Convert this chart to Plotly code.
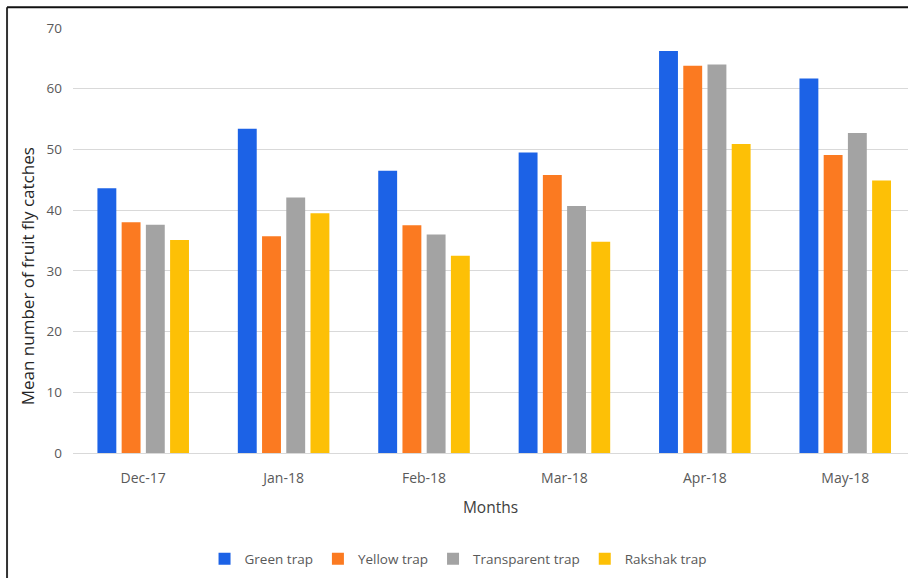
import plotly.graph_objects as go

months = ["Dec-17", "Jan-18", "Feb-18", "Mar-18", "Apr-18", "May-18"]
green_trap = [43.6, 53.4, 46.5, 49.5, 66.2, 61.7]
yellow_trap = [38.0, 35.7, 37.5, 45.8, 63.8, 49.1]
transparent_trap = [37.6, 42.1, 36.0, 40.7, 64.0, 52.7]
rakshak_trap = [35.1, 39.5, 32.5, 34.8, 50.9, 44.9]

series = [
    ("Green trap", green_trap, "#1c62e6"),
    ("Yellow trap", yellow_trap, "#fb7a21"),
    ("Transparent trap", transparent_trap, "#a3a3a3"),
    ("Rakshak trap", rakshak_trap, "#fdc006"),
]

fig = go.Figure()
for name, vals, col in series:
    fig.add_trace(go.Bar(x=months, y=vals, name=name, marker=dict(color=col, line=dict(width=0))))

font_family = "Open Sans, Liberation Sans, sans-serif"
fig.update_layout(
    width=908, height=578,
    margin=dict(l=73, r=0, t=28, b=125),
    paper_bgcolor="white", plot_bgcolor="white",
    barmode="group", bargap=0.31, bargroupgap=0.22,
    font=dict(family=font_family, color="#595959", size=13),
    showlegend=True,
    legend=dict(orientation="h", xref="container", yref="container",
                x=0.505, xanchor="center", y=0.033, yanchor="middle",
                font=dict(size=13.5, color="#595959"), itemwidth=30,
                traceorder="normal"),
    xaxis=dict(range=[-0.5, 5.447], showgrid=False, showline=True,
               linecolor="#d9d9d9", linewidth=1, ticks="", ticklabelstandoff=12,
               tickfont=dict(size=14, color="#595959"),
               title=dict(text="Months", font=dict(size=15.5, color="#404040"), standoff=16)),
    yaxis=dict(range=[0, 70], dtick=10, showgrid=True, gridcolor="#d9d9d9", gridwidth=1,
               zeroline=False, showline=False, ticks="", ticklabelstandoff=10,
               tickfont=dict(size=13.5, color="#595959")),
    annotations=[
        dict(text="Mean number of fruit fly catches", xref="paper", yref="paper",
             x=-0.055, y=0.416, xanchor="center", yanchor="middle", textangle=-90,
             showarrow=False, font=dict(size=17, color="#262626")),
    ],
    shapes=[
        dict(type="line", xref="paper", yref="paper", x0=-0.079, x1=-0.079, y0=-0.35, y1=1.049,
             line=dict(color="#333333", width=2)),
        dict(type="line", xref="paper", yref="paper", x0=-0.079, x1=1.05, y0=1.049, y1=1.049,
             line=dict(color="#111111", width=2)),
    ],
)

fig.write_html("out.html")
